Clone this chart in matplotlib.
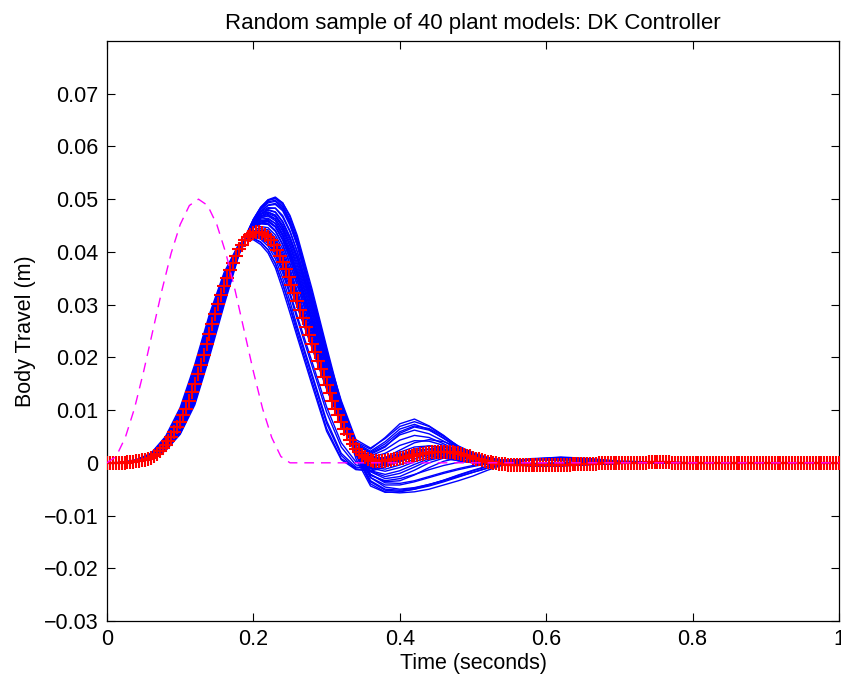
import numpy as np
import matplotlib
matplotlib.use("Agg")
import matplotlib.pyplot as plt

# ---------------- data (body travel in millimetres) ----------------
# sample times of the 40 random-plant responses
t_blue = [0.00, 0.02, 0.04, 0.06, 0.08, 0.10, 0.12, 0.14, 0.16, 0.18,
          0.19, 0.20, 0.21, 0.22, 0.23, 0.24, 0.25, 0.26, 0.28, 0.30,
          0.32, 0.34, 0.36, 0.38, 0.40, 0.42, 0.44, 0.46, 0.48, 0.50,
          0.52, 0.55, 0.58, 0.62, 0.66, 0.70, 0.80, 0.90, 1.00]

# first part (t = 0 .. 0.30) of each response
near_nominal_head = [
    [0, 0.0, 0.3, 1.0, 3.4, 7.8, 15.0, 24.5, 33.5, 40.5, 42.5, 43.5, 43.7, 43.0, 40.9, 38.0, 34.5, 30.6, 22.6, 14.7],
    [0, 0.0, 0.3, 0.9, 3.1, 7.2, 14.1, 23.5, 32.7, 40.0, 42.3, 43.6, 44.0, 43.6, 41.8, 38.9, 35.4, 31.4, 23.3, 15.2],
    [0, 0.0, 0.4, 1.2, 3.9, 8.7, 16.3, 26.0, 34.8, 41.0, 42.6, 43.1, 42.8, 41.9, 39.8, 36.8, 33.3, 29.5, 21.8, 14.0],
    [0, 0.0, 0.3, 0.9, 2.9, 6.8, 13.4, 22.7, 32.0, 39.7, 42.2, 43.7, 44.4, 44.2, 42.6, 39.9, 36.2, 32.0, 23.8, 15.5],
    [0, 0.0, 0.3, 1.1, 3.7, 8.4, 15.9, 25.5, 34.3, 40.8, 42.7, 43.3, 43.2, 42.5, 40.5, 37.5, 34.0, 30.2, 22.1, 14.2],
    [0, 0.0, 0.3, 1.0, 3.3, 7.5, 14.6, 24.0, 33.1, 40.3, 42.4, 43.5, 43.8, 43.3, 41.4, 38.4, 34.9, 31.0, 23.0, 15.0],
    [0, 0.0, 0.3, 0.8, 2.8, 6.6, 13.0, 22.2, 31.6, 39.5, 42.2, 43.9, 44.8, 44.6, 43.2, 40.6, 36.8, 32.6, 24.4, 16.0],
    [0, 0.0, 0.3, 1.0, 3.5, 8.0, 15.4, 25.0, 33.9, 40.6, 42.5, 43.3, 43.4, 42.8, 40.7, 37.6, 34.2, 30.4, 22.4, 14.5],
    [0, 0.0, 0.3, 0.9, 3.0, 7.0, 13.8, 23.1, 32.4, 39.9, 42.3, 43.7, 44.1, 43.9, 42.2, 39.4, 35.8, 31.8, 23.6, 15.4],
    [0, 0.0, 0.3, 1.0, 3.4, 7.8, 15.0, 24.5, 33.5, 40.5, 42.5, 43.5, 43.8, 43.2, 41.2, 38.2, 34.7, 30.8, 22.8, 14.9],
]
# second part (t = 0.32 .. 1.0)
near_nominal_tail = [
    [7.7, 2.7, 0.6, 0.4, 0.9, 1.4, 1.9, 2.1, 1.8, 1.0, 0.2, -0.4, -0.5, -0.4, -0.2, 0.0, 0.0, 0.0, 0.0],
    [7.9, 2.6, 0.2, -0.1, 0.5, 1.3, 2.0, 2.3, 2.0, 1.2, 0.4, -0.3, -0.5, -0.4, -0.2, 0.0, 0.0, 0.0, 0.0],
    [7.2, 2.6, 0.8, 0.8, 1.2, 1.6, 1.9, 1.8, 1.4, 0.7, 0.0, -0.4, -0.4, -0.3, -0.1, 0.0, 0.0, 0.0, 0.0],
    [8.0, 2.4, -0.2, -0.5, 0.2, 1.2, 2.2, 2.6, 2.3, 1.5, 0.6, -0.2, -0.6, -0.5, -0.2, 0.0, 0.0, 0.0, 0.0],
    [7.4, 2.9, 1.0, 1.0, 1.6, 2.2, 2.6, 2.6, 2.1, 1.3, 0.5, -0.3, -0.5, -0.4, -0.2, 0.0, 0.0, 0.0, 0.0],
    [7.8, 2.5, 0.3, 0.1, 0.6, 1.2, 1.6, 1.7, 1.4, 0.8, 0.1, -0.4, -0.5, -0.3, -0.1, 0.0, 0.0, 0.0, 0.0],
    [8.4, 2.8, 0.0, -0.3, 0.5, 1.6, 2.6, 3.0, 2.7, 1.8, 0.8, -0.1, -0.6, -0.6, -0.3, -0.1, 0.0, 0.0, 0.0],
    [7.6, 2.8, 0.8, 0.6, 1.0, 1.5, 1.8, 1.9, 1.6, 0.9, 0.2, -0.4, -0.4, -0.3, -0.1, 0.0, 0.0, 0.0, 0.0],
    [8.0, 2.7, 0.2, -0.2, 0.4, 1.3, 2.1, 2.5, 2.2, 1.4, 0.5, -0.3, -0.5, -0.5, -0.2, 0.0, 0.0, 0.0, 0.0],
    [7.9, 2.9, 0.7, 0.4, 0.8, 1.3, 1.7, 1.9, 1.7, 1.0, 0.3, -0.3, -0.4, -0.3, -0.1, 0.0, 0.0, 0.0, 0.0],
]

early_head = [
    [0, 0.0, 0.5, 1.6, 4.6, 9.8, 17.8, 27.3, 35.4, 41.2, 42.3, 42.5, 41.8, 40.4, 37.8, 33.9, 29.4, 24.5, 15.5, 6.5],
    [0, 0.0, 0.5, 1.5, 4.4, 9.5, 17.4, 26.9, 35.1, 41.2, 42.5, 42.9, 42.4, 41.1, 38.7, 35.0, 30.6, 25.8, 16.9, 8.0],
    [0, 0.0, 0.4, 1.4, 4.2, 9.2, 17.0, 26.5, 34.9, 41.1, 42.5, 42.9, 42.6, 41.6, 39.4, 36.0, 31.8, 27.2, 18.4, 9.6],
    [0, 0.1, 0.6, 1.8, 5.0, 10.5, 18.7, 28.2, 36.1, 41.5, 42.3, 42.3, 41.4, 39.8, 37.0, 32.9, 28.4, 23.8, 14.8, 6.0],
    [0, 0.0, 0.4, 1.3, 4.0, 8.9, 16.6, 26.1, 34.6, 41.0, 42.6, 43.2, 42.9, 42.0, 40.0, 36.6, 32.3, 27.8, 19.2, 10.6],
    [0, 0.0, 0.5, 1.7, 4.8, 10.1, 18.2, 27.7, 35.7, 41.3, 42.4, 42.6, 41.9, 40.4, 37.8, 34.0, 29.6, 25.3, 16.4, 7.5],
]
early_tail = [
    [0.8, -1.0, -0.8, 0.2, 1.2, 1.6, 1.4, 0.9, 0.4, 0.0, -0.3, -0.4, -0.3, -0.1, 0.0, 0.0, 0.0, 0.0, 0.0],
    [1.8, -0.8, -1.0, 0.0, 1.3, 2.0, 2.0, 1.5, 0.8, 0.2, -0.2, -0.4, -0.3, -0.1, 0.0, 0.0, 0.0, 0.0, 0.0],
    [3.0, -0.4, -0.9, 0.0, 1.4, 2.4, 2.6, 2.1, 1.3, 0.5, -0.1, -0.5, -0.5, -0.2, 0.0, 0.0, 0.0, 0.0, 0.0],
    [0.6, -1.3, -1.4, -0.4, 0.8, 1.4, 1.3, 0.9, 0.4, 0.0, -0.2, -0.3, -0.2, 0.0, 0.0, 0.0, 0.0, 0.0, 0.0],
    [3.8, 0.2, -0.4, 0.6, 2.0, 3.0, 3.2, 2.6, 1.7, 0.8, 0.1, -0.4, -0.5, -0.3, -0.1, 0.0, 0.0, 0.0, 0.0],
    [1.4, -1.2, -1.6, -0.8, 0.4, 1.2, 1.4, 1.1, 0.6, 0.2, -0.1, -0.3, -0.2, 0.0, 0.0, 0.0, 0.0, 0.0, 0.0],
]

mid_head = [
    [0, 0.0, 0.3, 0.9, 3.0, 7.0, 13.8, 23.0, 32.4, 40.1, 42.8, 44.7, 45.7, 45.8, 44.7, 42.2, 38.6, 34.5, 25.8, 17.0],
    [0, 0.0, 0.3, 0.85, 2.9, 6.8, 13.4, 22.6, 32.0, 40.0, 42.9, 45.0, 46.2, 46.4, 45.4, 43.0, 39.5, 35.4, 26.8, 18.0],
    [0, 0.0, 0.3, 0.8, 2.8, 6.6, 13.1, 22.3, 31.8, 40.0, 43.1, 45.3, 46.7, 47.1, 46.3, 43.9, 40.4, 36.2, 27.6, 18.7],
    [0, 0.0, 0.3, 0.9, 3.1, 7.2, 14.1, 23.4, 32.7, 40.2, 42.7, 44.5, 45.3, 45.2, 43.9, 41.3, 37.6, 33.6, 25.0, 16.3],
    [0, 0.0, 0.3, 0.8, 2.7, 6.4, 12.8, 22.0, 31.6, 40.0, 43.3, 45.6, 47.1, 47.6, 46.9, 44.6, 41.0, 36.8, 28.2, 19.2],
    [0, 0.0, 0.3, 0.9, 3.0, 7.0, 13.8, 23.0, 32.4, 40.1, 42.9, 44.8, 45.9, 46.0, 44.9, 42.4, 38.7, 34.6, 25.8, 16.8],
    [0, 0.0, 0.3, 0.9, 3.1, 7.2, 14.1, 23.4, 32.7, 40.2, 42.7, 44.6, 45.4, 45.4, 44.1, 41.5, 37.8, 33.8, 25.1, 16.4],
    [0, 0.0, 0.3, 0.8, 2.8, 6.6, 13.1, 22.3, 31.8, 40.0, 43.0, 45.2, 46.5, 46.8, 45.9, 43.4, 39.8, 35.8, 27.2, 18.3],
]
mid_tail = [
    [8.6, 2.0, -1.5, -2.2, -1.5, -0.3, 0.8, 1.2, 1.0, 0.6, 0.2, -0.2, -0.4, -0.3, -0.1, 0.0, 0.0, 0.0, 0.0],
    [9.4, 2.4, -1.6, -2.6, -2.0, -0.8, 0.5, 1.1, 1.1, 0.7, 0.3, -0.1, -0.3, -0.3, -0.1, 0.0, 0.0, 0.0, 0.0],
    [10.0, 2.8, -1.7, -3.0, -2.6, -1.4, 0.0, 0.9, 1.1, 0.8, 0.4, 0.0, -0.2, -0.2, -0.1, 0.0, 0.0, 0.0, 0.0],
    [8.2, 2.2, -0.8, -1.2, -0.4, 0.7, 1.6, 1.9, 1.6, 1.0, 0.3, -0.3, -0.5, -0.4, -0.2, 0.0, 0.0, 0.0, 0.0],
    [10.2, 2.6, -2.2, -3.6, -3.4, -2.3, -0.9, 0.3, 0.9, 0.9, 0.6, 0.2, -0.1, -0.2, -0.1, 0.0, 0.0, 0.0, 0.0],
    [8.4, 2.4, 0.0, 0.2, 1.4, 2.6, 3.2, 3.0, 2.3, 1.4, 0.5, -0.3, -0.6, -0.5, -0.2, 0.0, 0.0, 0.0, 0.0],
    [8.3, 2.0, -1.0, -1.6, -0.9, 0.2, 1.1, 1.5, 1.3, 0.8, 0.2, -0.3, -0.4, -0.3, -0.1, 0.0, 0.0, 0.0, 0.0],
    [9.6, 2.8, 0.4, 1.0, 2.4, 3.8, 4.4, 4.0, 3.0, 1.8, 0.7, -0.2, -0.6, -0.6, -0.3, 0.0, 0.0, 0.0, 0.0],
]

undershoot_head = [
    [0, 0.0, 0.2, 0.7, 2.4, 5.6, 11.4, 20.6, 30.4, 39.6, 43.2, 46.2, 48.5, 49.9, 50.4, 49.3, 46.6, 42.6, 32.4, 21.5],
    [0, 0.0, 0.2, 0.7, 2.5, 5.8, 11.8, 21.0, 30.8, 39.7, 43.1, 46.0, 48.2, 49.5, 49.8, 48.6, 45.9, 42.0, 31.6, 21.0],
    [0, 0.0, 0.2, 0.65, 2.3, 5.4, 11.0, 20.1, 29.9, 39.3, 43.0, 46.1, 48.4, 49.8, 50.1, 49.3, 46.9, 43.1, 33.0, 22.0],
    [0, 0.0, 0.2, 0.75, 2.6, 6.0, 12.2, 21.5, 31.2, 39.8, 43.0, 45.6, 47.6, 48.8, 49.0, 47.8, 45.0, 41.2, 31.0, 20.6],
    [0, 0.0, 0.2, 0.7, 2.4, 5.7, 11.6, 20.8, 30.6, 39.7, 43.2, 46.2, 48.4, 49.8, 50.2, 48.9, 46.0, 41.8, 31.3, 20.3],
    [0, 0.0, 0.25, 0.8, 2.7, 6.2, 12.5, 21.8, 31.5, 39.9, 42.9, 45.4, 47.2, 48.2, 48.3, 46.9, 44.0, 40.0, 30.0, 19.8],
    [0, 0.0, 0.2, 0.7, 2.4, 5.7, 11.6, 20.8, 30.6, 39.6, 43.0, 45.9, 48.0, 49.3, 49.6, 48.3, 45.3, 41.2, 30.8, 20.1],
    [0, 0.0, 0.2, 0.75, 2.6, 6.0, 12.2, 21.5, 31.2, 39.8, 43.0, 45.7, 47.7, 48.9, 49.2, 48.1, 45.5, 41.8, 31.8, 21.2],
]
undershoot_tail = [
    [10.5, 1.5, -4.0, -5.5, -5.7, -5.5, -5.0, -4.2, -3.4, -2.5, -1.4, 0.0, 0.7, 1.1, 0.8, 0.3, 0.0, 0.0, 0.0],
    [10.6, 2.0, -3.4, -5.0, -5.2, -4.8, -4.1, -3.3, -2.4, -1.5, -0.7, 0.2, 0.7, 0.9, 0.6, 0.2, 0.0, 0.0, 0.0],
    [11.3, 2.8, -2.8, -4.6, -5.0, -4.7, -4.1, -3.4, -2.6, -1.8, -1.0, 0.0, 0.6, 0.9, 0.7, 0.3, 0.0, 0.0, 0.0],
    [10.2, 2.0, -2.8, -4.2, -4.2, -3.6, -2.8, -2.0, -1.3, -0.7, -0.2, 0.3, 0.6, 0.7, 0.4, 0.1, 0.0, 0.0, 0.0],
    [9.6, 0.8, -4.4, -5.6, -5.5, -5.0, -4.2, -3.3, -2.3, -1.4, -0.6, 0.3, 0.8, 1.0, 0.6, 0.2, 0.0, 0.0, 0.0],
    [9.6, 1.8, -2.4, -3.4, -3.0, -2.2, -1.3, -0.5, 0.1, 0.4, 0.5, 0.6, 0.6, 0.4, 0.2, 0.0, 0.0, 0.0, 0.0],
    [9.8, 1.6, -3.6, -5.2, -5.4, -5.0, -4.4, -3.6, -2.7, -1.8, -1.0, 0.0, 0.6, 0.9, 0.6, 0.2, 0.0, 0.0, 0.0],
    [10.9, 2.6, -2.2, -3.8, -3.9, -3.4, -2.6, -1.8, -1.1, -0.5, 0.0, 0.4, 0.6, 0.6, 0.4, 0.1, 0.0, 0.0, 0.0],
]

rebound_head = [
    [0, 0.0, 0.2, 0.75, 2.6, 6.1, 12.2, 21.4, 31.2, 39.9, 43.1, 45.6, 47.2, 48.0, 47.6, 45.8, 42.9, 39.2, 30.0, 20.8],
    [0, 0.0, 0.2, 0.75, 2.6, 6.1, 12.3, 21.5, 31.2, 39.8, 42.9, 45.3, 46.8, 47.5, 47.0, 45.1, 42.2, 38.5, 29.3, 20.2],
    [0, 0.0, 0.25, 0.8, 2.7, 6.3, 12.6, 21.9, 31.5, 39.9, 42.8, 45.0, 46.4, 46.9, 46.2, 44.2, 41.2, 37.4, 28.3, 19.3],
    [0, 0.0, 0.25, 0.8, 2.8, 6.5, 12.9, 22.2, 31.8, 40.0, 42.8, 44.8, 45.9, 46.2, 45.4, 43.2, 40.0, 36.2, 27.2, 18.2],
    [0, 0.0, 0.2, 0.7, 2.5, 5.9, 11.9, 21.1, 31.0, 39.8, 43.1, 45.7, 47.5, 48.4, 48.3, 46.6, 43.8, 40.0, 30.5, 21.0],
    [0, 0.0, 0.25, 0.8, 2.8, 6.5, 12.9, 22.2, 31.8, 40.0, 42.7, 44.6, 45.5, 45.7, 44.8, 42.5, 39.2, 35.3, 26.4, 17.4],
    [0, 0.0, 0.2, 0.7, 2.5, 5.9, 11.9, 21.1, 31.0, 39.8, 43.0, 45.5, 47.1, 47.9, 47.5, 45.6, 42.6, 38.8, 29.6, 20.5],
    [0, 0.0, 0.25, 0.8, 2.7, 6.3, 12.6, 21.9, 31.5, 39.9, 42.9, 45.2, 46.7, 47.3, 46.7, 44.7, 41.7, 37.9, 28.8, 19.6],
]
rebound_tail = [
    [11.5, 4.0, 2.6, 4.8, 7.4, 8.3, 7.0, 5.2, 3.0, 1.8, 1.0, 0.3, -0.3, -0.5, -0.3, -0.1, 0.0, 0.0, 0.0],
    [11.0, 3.8, 2.2, 4.0, 6.4, 7.3, 6.3, 4.6, 2.8, 1.6, 0.8, 0.2, -0.3, -0.4, -0.3, -0.1, 0.0, 0.0, 0.0],
    [10.4, 3.4, 1.8, 3.2, 5.3, 6.2, 5.5, 4.1, 2.5, 1.4, 0.7, 0.1, -0.3, -0.4, -0.2, -0.1, 0.0, 0.0, 0.0],
    [9.6, 3.0, 1.3, 2.5, 4.3, 5.2, 4.8, 3.6, 2.3, 1.3, 0.6, 0.0, -0.4, -0.4, -0.2, 0.0, 0.0, 0.0, 0.0],
    [11.8, 4.4, 2.8, 4.6, 6.9, 7.8, 6.9, 5.1, 3.1, 1.8, 0.9, 0.2, -0.3, -0.5, -0.3, -0.1, 0.0, 0.0, 0.0],
    [9.0, 2.8, 1.0, 1.8, 3.3, 4.2, 4.1, 3.3, 2.2, 1.2, 0.5, -0.1, -0.4, -0.4, -0.2, 0.0, 0.0, 0.0, 0.0],
    [11.2, 3.6, 1.6, 3.0, 5.6, 6.8, 6.2, 4.7, 2.9, 1.6, 0.8, 0.2, -0.3, -0.4, -0.3, -0.1, 0.0, 0.0, 0.0],
    [10.6, 3.5, 2.0, 3.6, 5.9, 7.0, 6.5, 5.0, 3.2, 1.9, 1.0, 0.3, -0.3, -0.5, -0.3, -0.1, 0.0, 0.0, 0.0],
]

# nominal response, one value per marker (every 0.004 s)
nominal_mm = [
    0.0, 0.0, 0.0, 0.0, 0.0, 0.0, 0.0, 0.1, 0.1, 0.2, 0.3,
    0.4, 0.5, 0.6, 0.8, 1.0, 1.3, 1.7, 2.2, 2.8, 3.4,
    4.1, 4.9, 5.8, 6.8, 7.8, 9.0, 10.3, 11.8, 13.4, 15.0,
    16.8, 18.6, 20.5, 22.5, 24.5, 26.4, 28.3, 30.1, 31.8, 33.5,
    35.0, 36.5, 37.9, 39.2, 40.5, 41.4, 42.2, 42.8, 43.2, 43.5,
    43.7, 43.7, 43.6, 43.3, 42.8, 42.2, 41.4, 40.3, 39.2, 38.0,
    36.7, 35.3, 33.8, 32.2, 30.6, 29.0, 27.4, 25.8, 24.2, 22.6,
    21.0, 19.4, 17.8, 16.2, 14.7, 13.2, 11.7, 10.3, 9.0, 7.7,
    6.5, 5.4, 4.4, 3.5, 2.7, 2.0, 1.5, 1.1, 0.8, 0.6,
    0.4, 0.3, 0.3, 0.3, 0.4, 0.5, 0.6, 0.7, 0.8, 0.9,
    1.0, 1.1, 1.2, 1.3, 1.4, 1.5, 1.6, 1.7, 1.8, 1.9,
    2.0, 2.0, 2.1, 2.1, 2.1, 2.1, 2.0, 2.0, 1.9, 1.8,
    1.6, 1.5, 1.3, 1.2, 1.0, 0.8, 0.7, 0.5, 0.4, 0.2,
    0.1, 0.0, -0.1, -0.2, -0.3, -0.3, -0.4, -0.4, -0.5, -0.5,
    -0.5, -0.5, -0.5, -0.5, -0.5, -0.5, -0.5, -0.5, -0.5, -0.5,
    -0.5, -0.5, -0.5, -0.4, -0.4, -0.4, -0.4, -0.4, -0.3, -0.3,
    -0.3, -0.3, -0.2, -0.2, -0.2, -0.2, -0.2, -0.1, -0.1, -0.1,
    -0.1, -0.1, 0.0, 0.0, 0.0, 0.0, 0.0, 0.0, 0.0, 0.0,
    0.0, 0.0, 0.0, 0.0, 0.1, 0.1, 0.1, 0.1, 0.1, 0.1,
    0.1, 0.1, 0.0, 0.0, 0.0, 0.0, 0.0, 0.0, 0.0, 0.0,
    0.0, 0.0, 0.0, 0.0, 0.0, 0.0, 0.0, 0.0, 0.0, 0.0,
    0.0, 0.0, 0.0, 0.0, -0.1, -0.1, -0.1, -0.1, -0.1, -0.1,
    -0.1, -0.1, 0.0, 0.0, 0.0, 0.0, 0.0, 0.0, 0.0, 0.0,
    0.0, 0.0, 0.0, 0.0, 0.0, 0.0, 0.0, 0.0, 0.0, 0.0,
    0.0, 0.0, 0.0, 0.0, 0.0, 0.0, 0.0, 0.0, 0.0, 0.0,
]
t_nominal = np.linspace(0.0, 1.0, len(nominal_mm))

# road bump disturbance
t_bump = [0.0, 0.0125, 0.025, 0.0375, 0.05, 0.0625, 0.075, 0.0875, 0.1, 0.1125,
          0.125, 0.1375, 0.15, 0.1625, 0.175, 0.1875, 0.2, 0.2125, 0.225, 0.2375,
          0.25, 1.0]
bump_mm = [0.0, 1.2, 4.8, 10.3, 17.3, 25.0, 32.7, 39.7, 45.2, 48.8,
           50.0, 48.8, 45.2, 39.7, 32.7, 25.0, 17.3, 10.3, 4.8, 1.2,
           0.0, 0.0]

x_ticks = [0, 0.2, 0.4, 0.6, 0.8, 1.0]
x_tick_labels = ["0", "0.2", "0.4", "0.6", "0.8", "1"]
y_ticks = [-0.03, -0.02, -0.01, 0.0, 0.01, 0.02, 0.03, 0.04, 0.05, 0.06, 0.07]
y_tick_labels = ["\u22120.03", "\u22120.02", "\u22120.01", "0", "0.01", "0.02",
                 "0.03", "0.04", "0.05", "0.06", "0.07"]

title_text = "Random sample of 40 plant models: DK Controller"
x_label = "Time (seconds)"
y_label = "Body Travel (m)"

# ---------------- drawing ----------------
plt.rcParams["font.family"] = ["Liberation Sans", "DejaVu Sans"]

W, H = 841, 680
fig = plt.figure(figsize=(W / 100, H / 100), dpi=100)
fig.patch.set_facecolor("white")
ax = fig.add_axes([107 / W, (H - 621) / H, 732 / W, 580 / H])

groups = [(near_nominal_head, near_nominal_tail), (early_head, early_tail),
          (mid_head, mid_tail), (undershoot_head, undershoot_tail),
          (rebound_head, rebound_tail)]
for heads, tails in groups:
    for head, tail in zip(heads, tails):
        row = np.array(list(head) + list(tail), dtype=float) / 1000.0
        n = min(len(row), len(t_blue))
        ax.plot(t_blue[:n], row[:n], color="#0000ff", lw=1.0,
                solid_joinstyle="round", zorder=2)

ax.plot(t_nominal, np.array(nominal_mm) / 1000.0, linestyle="none",
        marker="+", markersize=9.5, markeredgewidth=1.5, color="#ff0000", zorder=3)

ax.plot(t_bump, np.array(bump_mm) / 1000.0, color="#ff00ff", lw=1.0,
        dashes=(7, 5), zorder=4)

ax.set_xlim(0, 1)
ax.set_ylim(-0.03, 0.08)
ax.set_xticks(x_ticks)
ax.set_xticklabels(x_tick_labels)
ax.set_yticks(y_ticks)
ax.set_yticklabels(y_tick_labels)
ax.tick_params(direction="in", top=True, right=True, length=6, width=0.8,
               labelsize=15.5, pad=6, colors="black")
for s in ax.spines.values():
    s.set_linewidth(0.9)
    s.set_color("black")

ax.set_title(title_text, fontsize=16, pad=9)
ax.set_xlabel(x_label, fontsize=15.5, labelpad=2)
ax.set_ylabel(y_label, fontsize=15.5, labelpad=6)

fig.savefig("out.png", dpi=100, facecolor="white")
